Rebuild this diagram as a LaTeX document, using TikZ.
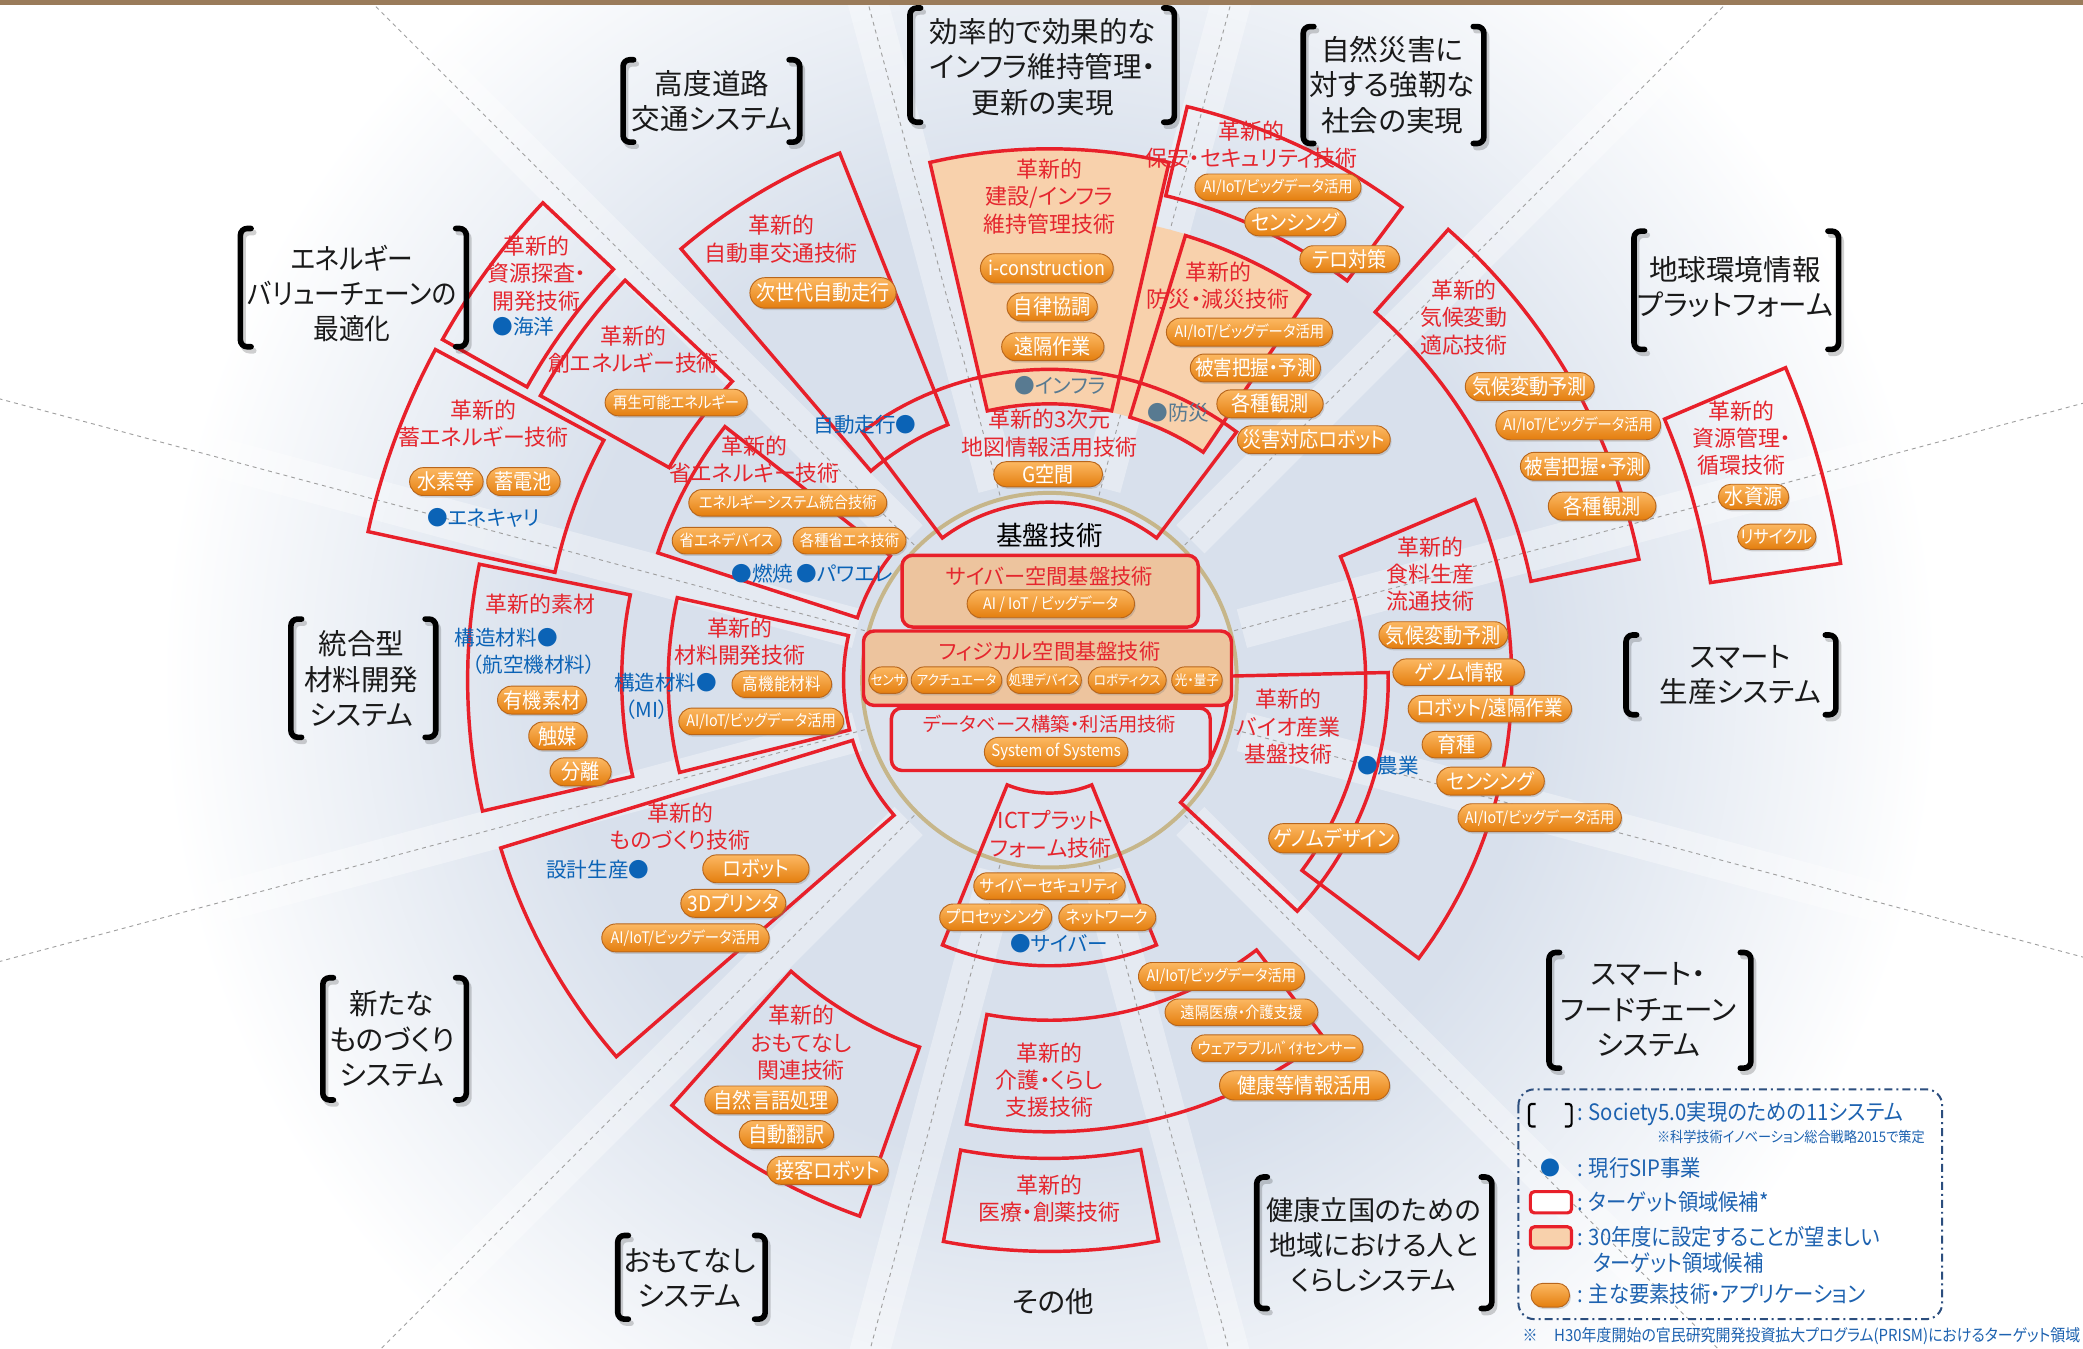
\documentclass[tikz,border=0pt]{standalone}
\usepackage{fontspec}
\setmainfont{Noto Sans CJK JP}
\newfontfamily\jp[RawFeature=+palt]{Noto Sans CJK JP}
\newfontfamily\jpc[FakeStretch=0.9,RawFeature=+palt]{Noto Sans CJK JP}
\usetikzlibrary{shapes.misc,shadows}
\definecolor{rd}{HTML}{E8202A}
\definecolor{lbl}{HTML}{E5262E}
\definecolor{sip}{HTML}{0B63B6}
\definecolor{sipg}{HTML}{587A91}
\definecolor{beig}{HTML}{F8D1AC}
\definecolor{beigb}{HTML}{EDC49E}
\definecolor{cfill}{HTML}{DCE3EE}
\definecolor{tanc}{HTML}{C6B68A}
\definecolor{pT}{HTML}{FCB862}
\definecolor{pB}{HTML}{E47E0E}
\definecolor{pE}{HTML}{B8661C}
\definecolor{bgb}{HTML}{D8E0EC}
\colorlet{bgc}{bgb!50!white}
\definecolor{lgd}{HTML}{2C4E7E}
\definecolor{lgt}{HTML}{1D62B0}
\definecolor{brn}{HTML}{9A7B5A}
\definecolor{spk}{HTML}{A0A0A0}
\pgfdeclareradialshading{bgsh}{\pgfpoint{0bp}{0bp}}{color(0bp)=(bgb);color(12bp)=(bgb);color(17bp)=(bgc);color(22bp)=(white);color(50bp)=(white)}
\tikzset{
 sec/.style={draw=rd,line width=2.6pt,line join=miter},
 pill/.style={rounded rectangle,draw=pE,line width=0.7pt,top color=pT,bottom color=pB,text=white,inner xsep=3pt,inner ysep=0pt,drop shadow={opacity=0.3,shadow xshift=1pt,shadow yshift=-1.5pt}},
 rl/.style={text=lbl,align=center,font=\jp\fontsize{16.5}{20.5}\selectfont,inner sep=0pt},
 bl/.style={text=sip,align=center,font=\jp\fontsize{15.5}{19}\selectfont,inner sep=0pt},
 gl/.style={bl,text=sipg},
 sys/.style={align=center,font=\jp\fontsize{21.5}{26.5}\selectfont,inner sep=0pt,text=black!90},
 brk/.style={line width=4.2pt,line cap=round,rounded corners=5pt,black},
 brks/.style={line width=4.2pt,line cap=round,rounded corners=5pt,black,opacity=0.18},
 spoke/.style={spk,line width=0.7pt,dashed},
 cbox/.style={draw=rd,line width=2.6pt,rounded corners=8pt,inner sep=0pt},
 lt/.style={text=lgt,font=\jpc\fontsize{17}{19}\selectfont,inner sep=0pt},
}
\newcommand\mysec[5][sec]{\path[#1] plot[domain=#2:#3,samples=40] ({790+#5*cos(\x)},{512+#5*sin(\x)}) -- plot[domain=#3:#2,samples=40] ({790+#4*cos(\x)},{512+#4*sin(\x)}) -- cycle;}
\newcommand\pl[7]{\node[pill,minimum width=#4pt,minimum height=#5pt,font=\jpc\fontsize{#6}{#6}\selectfont] (#1) at (#2,#3) {#7};}
\newcommand\brkts[4]{%
 \draw[brks] ({#1+10},{#3+3}) -- ({#1+2},{#3+3}) -- ({#1+2},{#4+3}) -- ({#1+10},{#4+3});
 \draw[brks] ({#2-6},{#3+3}) -- ({#2+2},{#3+3}) -- ({#2+2},{#4+3}) -- ({#2-6},{#4+3});
 \draw[brk] ({#1+8},#3) -- (#1,#3) -- (#1,#4) -- ({#1+8},#4);
 \draw[brk] ({#2-8},#3) -- (#2,#3) -- (#2,#4) -- ({#2-8},#4);}
\newcommand\syslab[9][]{\node[sys,#1] (#2) at (#3,#4) {#9};\brkts{#5}{#6}{#7}{#8}}
\begin{document}
\begin{tikzpicture}[x=1pt,y=-1pt]
\useasboundingbox (0,0) rectangle (1568,1015);
\fill[white] (0,0) rectangle (1568,1015);
\begin{scope}
\clip (0,0) rectangle (1568,1015);
\shade[shading=bgsh] (790,512) circle[radius=760pt];
\foreach \a in {15,45,...,345} \draw[white,opacity=0.35,line width=30pt] ({790+150*cos(\a)},{512+150*sin(\a)}) -- ({790+1100*cos(\a)},{512+1100*sin(\a)});
\foreach \a in {15,45,...,345} \draw[spoke] ({790+120*cos(\a)},{512+120*sin(\a)}) -- ({790+1100*cos(\a)},{512+1100*sin(\a)});
\end{scope}
\fill[brn] (0,0) rectangle (1568,3.5);
% beige fills
\mysec[fill=beig,draw=none]{257}{283}{208}{400}
\mysec[fill=beig,draw=none]{281}{304}{207}{351}
% core circle
\draw[tanc,line width=3pt,fill=cfill] (790,512) circle[radius=141pt];
% sector outlines
\mysec{233}{307}{134}{234}
\mysec{257}{283}{208}{400}
\mysec{287}{304}{207}{350}
\mysec{283.5}{306.7}{375}{444}
\mysec{229.5}{248.3}{207}{427}
\mysec{209.3}{223.3}{451}{524}
\mysec{209.2}{223.3}{328}{439}
\mysec{192.3}{208.3}{381}{525}
\mysec{198}{218}{152}{310}
\mysec{167}{191.5}{322}{438}
\mysec{166}{192.5}{155}{287}
\mysec{139}{163}{155}{432}
\mysec{109.5}{131.6}{293}{428}
\mysec{68}{112}{85}{215}
\mysec{52.5}{100.6}{256}{340}
\mysec{79}{100.7}{360}{430}
\mysec{-1.3}{43}{135}{255}
\mysec{-23}{37}{238}{348}
\mysec{311.5}{348.4}{370}{453}
\mysec{337}{351.6}{503}{602}
% core boxes
\node[cbox,fill=beigb,minimum width=223pt,minimum height=54pt] (cyb) at (790.5,445) {};
\node[cbox,fill=beigb,minimum width=277pt,minimum height=56pt] (phy) at (788.5,503) {};
\node[cbox,fill=cfill,minimum width=240pt,minimum height=47pt] (dbb) at (791,556.5) {};
\node[font=\jp\fontsize{20}{20}\selectfont,inner sep=0pt] (kiban) at (790,403) {基盤技術};
\node[rl,font=\jp\fontsize{16}{16}\selectfont] (cybt) at (790,434) {サイバー空間基盤技術};
\node[rl,font=\jp\fontsize{16}{16}\selectfont] (phyt) at (790,490) {フィジカル空間基盤技術};
\node[rl,font=\jp\fontsize{14.5}{14.5}\selectfont] (dbt) at (790,545) {データベース構築・利活用技術};
\pl{c1}{791}{454.5}{132}{21}{12}{AI / IoT / ビッグデータ}
\pl{c2}{668.5}{512}{35}{20}{10.5}{センサ}
\pl{c3}{720}{512}{62}{20}{10.5}{アクチュエータ}
\pl{c4}{786}{512}{62}{20}{10.5}{処理デバイス}
\pl{c5}{848.5}{512}{55}{20}{10.5}{ロボティクス}
\pl{c6}{901}{512}{44}{20}{10.5}{光・量子}
\pl{c7}{795}{566}{114}{22}{12.5}{System of Systems}
% red labels
\node[rl] (l3d) at (790,326) {革新的3次元\\地図情報活用技術};
\node[rl] (lken) at (790,148) {革新的\\建設/インフラ\\維持管理技術};
\node[rl] (lbou) at (917,215) {革新的\\防災・減災技術};
\node[rl] (lhoa) at (942,109) {革新的\\保安・セキュリティ技術};
\node[rl] (ljid) at (588,180) {革新的\\自動車交通技術};
\node[rl] (lshi) at (404,206) {革新的\\資源探査・\\開発技術};
\node[rl] (lsou) at (477,263) {革新的\\創エネルギー技術};
\node[rl] (ltik) at (364,319) {革新的\\蓄エネルギー技術};
\node[rl] (lsho) at (568,346) {革新的\\省エネルギー技術};
\node[rl] (lsoz) at (407,455) {革新的素材};
\node[rl] (lzai) at (557,483) {革新的\\材料開発技術};
\node[rl] (lmon) at (512,622) {革新的\\ものづくり技術};
\node[rl] (lomo) at (603,785) {革新的\\おもてなし\\関連技術};
\node[rl] (lict) at (791,628) {ICTプラット\\フォーム技術};
\node[rl] (lkai) at (790,813) {革新的\\介護・くらし\\支援技術};
\node[rl] (liry) at (790,902) {革新的\\医療・創薬技術};
\node[rl] (lbio) at (970,547) {革新的\\バイオ産業\\基盤技術};
\node[rl] (lsyo) at (1077,432) {革新的\\食料生産\\流通技術};
\node[rl] (lkik) at (1102,239) {革新的\\気候変動\\適応技術};
\node[rl] (lsig) at (1311,330) {革新的\\資源管理・\\循環技術};
% SIP labels
\node[bl,anchor=east] (s1) at (690,320) {自動走行●};
\node[bl] (s2) at (394,246) {●海洋};
\node[bl] (s3) at (364,390) {●エネキャリ};
\node[bl] (s4) at (574,432) {●燃焼};
\node[bl] (s5) at (636,432) {●パワエレ};
\node[bl] (s6) at (381,480) {構造材料●};
\node[bl] (s7) at (402,500) {（航空機材料）};
\node[bl] (s8) at (501,514) {構造材料●};
\node[bl] (s9) at (487,534) {（MI）};
\node[bl] (s10) at (450,655) {設計生産●};
\node[bl] (s11) at (797,710) {●サイバー};
\node[bl] (s12) at (1045,576) {●農業};
\node[gl] (s13) at (798,290) {●インフラ};
\node[gl] (s14) at (887,311) {●防災};
% pills
\pl{p1}{619.5}{220.5}{116}{23}{16}{次世代自動走行}
\pl{p2}{509}{303}{113}{20}{12}{再生可能エネルギー}
\pl{p3}{336}{362.5}{49}{21}{16}{水素等}
\pl{p4}{394}{362.5}{54}{21}{16}{蓄電池}
\pl{p5}{593}{378.5}{155}{20}{12}{エネルギーシステム統合技術}
\pl{p6}{547}{407}{88}{20}{12}{省エネデバイス}
\pl{p7}{639.5}{407}{91}{20}{12}{各種省エネ技術}
\pl{p8}{408}{527}{73}{21}{16}{有機素材}
\pl{p9}{420}{554}{50}{21}{16}{触媒}
\pl{p10}{437}{581}{52}{21}{16}{分離}
\pl{p11}{588.5}{515}{81}{20}{13}{高機能材料}
\pl{p12}{573}{543}{130}{20}{12}{AI/IoT/ビッグデータ活用}
\pl{p13}{569}{654}{86}{21}{16}{ロボット}
\pl{p14}{552}{680}{85}{21}{16}{3Dプリンタ}
\pl{p15}{516}{706}{132}{21}{12}{AI/IoT/ビッグデータ活用}
\pl{p16}{580.5}{828}{106}{21}{16}{自然言語処理}
\pl{p17}{592}{854}{77}{21}{16}{自動翻訳}
\pl{p18}{623}{881}{83}{21}{16}{接客ロボット}
\pl{p19}{790}{667}{104}{20}{13}{サイバーセキュリティ}
\pl{p20}{749.5}{690.5}{81}{20}{13}{プロセッシング}
\pl{p21}{833.5}{690.5}{79}{20}{13}{ネットワーク}
\pl{p22}{919.5}{735}{131}{21}{12}{AI/IoT/ビッグデータ活用}
\pl{p23}{934.5}{762}{121}{20}{12}{遠隔医療・介護支援}
\pl{p24}{961.5}{789}{135}{20}{12}{ウェアラブルﾊﾞｲｵセンサー}
\pl{p25}{982}{817}{134}{22}{16}{健康等情報活用}
\pl{p26}{789}{357}{88}{19}{16}{G空間}
\pl{p27}{788}{202}{106}{22}{15}{i-construction}
\pl{p28}{792}{231}{74}{21}{16}{自律協調}
\pl{p29}{792.5}{261}{83}{21}{16}{遠隔作業}
\pl{p30}{962}{141}{131}{20}{12}{AI/IoT/ビッグデータ活用}
\pl{p31}{975}{167}{82}{21}{16}{センシング}
\pl{p32}{1016}{195}{81}{20}{16}{テロ対策}
\pl{p33}{940.5}{250}{131}{21}{12}{AI/IoT/ビッグデータ活用}
\pl{p34}{945}{277}{104}{21}{15.5}{被害把握・予測}
\pl{p35}{956}{304}{86}{21}{16}{各種観測}
\pl{p36}{989}{331}{121}{21}{16}{災害対応ロボット}
\pl{p37}{1151.5}{291}{103}{21}{16}{気候変動予測}
\pl{p38}{1188}{320}{130}{22}{12}{AI/IoT/ビッグデータ活用}
\pl{p39}{1193}{351}{103}{21}{15.5}{被害把握・予測}
\pl{p40}{1206}{381}{87}{21}{16}{各種観測}
\pl{p41}{1320}{374}{59}{19}{16}{水資源}
\pl{p42}{1337.5}{404}{65}{19}{13.5}{リサイクル}
\pl{p43}{1086.5}{478}{103}{20}{16}{気候変動予測}
\pl{p44}{1098}{506}{105}{20}{16}{ゲノム情報}
\pl{p45}{1121.5}{533.5}{129}{20}{15.5}{ロボット/遠隔作業}
\pl{p46}{1096.5}{560.5}{58}{20}{16}{育種}
\pl{p47}{1122}{588}{87}{21}{16}{センシング}
\pl{p48}{1159}{615.5}{129}{21}{12}{AI/IoT/ビッグデータ活用}
\pl{p49}{1004}{631}{104}{22}{16}{ゲノムデザイン}
% system labels
\syslab{y1}{536}{76}{469}{602}{45}{107}{高度道路\\交通システム}
\syslab{y2}{785}{50.5}{685}{884}{6}{92}{効率的で効果的な\\インフラ維持管理・\\更新の実現}
\syslab{y3}{1048}{64}{981}{1117}{20}{108}{自然災害に\\対する強靭な\\社会の実現}
\syslab[font=\jpc\fontsize{21.5}{26.5}\selectfont]{y4}{265}{221}{181}{351}{172}{261}{エネルギー\\バリューチェーンの\\最適化}
\syslab{y5}{1306}{216}{1230}{1384}{174}{263}{地球環境情報\\プラットフォーム}
\syslab{y6}{1310}{508}{1224}{1382}{478}{538}{スマート\\生産システム}
\syslab{y7}{272}{511}{219}{328}{466}{555}{統合型\\材料開発\\システム}
\syslab{y8}{295}{782}{243}{351}{736}{828}{新たな\\ものづくり\\システム}
\syslab{y9}{519}{962}{465}{576}{930}{993}{おもてなし\\システム}
\syslab[font=\jp\fontsize{20.5}{26.5}\selectfont]{y10}{1034}{937}{946}{1123}{886}{985}{健康立国のための\\地域における人と\\くらしシステム}
\syslab{y11}{1241}{760}{1166}{1318}{717}{804}{スマート・\\フードチェーン\\システム}
\node[sys] (y12) at (793,980) {その他};
% legend
\draw[lgd,line width=1.5pt,dash pattern=on 6pt off 3pt on 1.5pt off 3pt,rounded corners=12pt] (1143,820) rectangle (1462,993);
\draw[black,line width=1.6pt,rounded corners=2pt] (1156,831) -- (1151,831) -- (1151,848) -- (1156,848);
\draw[black,line width=1.6pt,rounded corners=2pt] (1178,831) -- (1183,831) -- (1183,848) -- (1178,848);
\node[lt,anchor=west] (g1) at (1187,838) {: Society5.0実現のための11システム};
\node[lt,anchor=east,font=\jpc\fontsize{11}{11}\selectfont] (g1b) at (1449,856) {※科学技術イノベーション総合戦略2015で策定};
\node[text=sip,inner sep=0pt,font=\jp\fontsize{15}{15}\selectfont] (gdot) at (1167,879) {●};
\node[lt,anchor=west] (g2) at (1187,879) {: 現行SIP事業};
\node[draw=rd,line width=2.4pt,fill=white,rounded corners=3pt,minimum width=31pt,minimum height=16pt,inner sep=0pt] (grb) at (1167.5,905) {};
\node[lt,anchor=west] (g3) at (1187,905) {: ターゲット領域候補*};
\node[draw=rd,line width=2.4pt,fill=beig,rounded corners=3pt,minimum width=31pt,minimum height=16pt,inner sep=0pt] (gbb) at (1167.5,931.5) {};
\node[lt,anchor=west] (g4) at (1187,931) {: 30年度に設定することが望ましい};
\node[lt,anchor=west] (g4b) at (1199,951) {ターゲット領域候補};
\node[pill,minimum width=35pt,minimum height=18pt] (gpl) at (1167,975) {};
\node[lt,anchor=west] (g5) at (1187,974) {: 主な要素技術・アプリケーション};
\node[lt,anchor=west,font=\jpc\fontsize{12.5}{12.5}\selectfont] (foot) at (1146,1006) {※\quad H30年度開始の官民研究開発投資拡大プログラム(PRISM)におけるターゲット領域};
\end{tikzpicture}
\end{document}
